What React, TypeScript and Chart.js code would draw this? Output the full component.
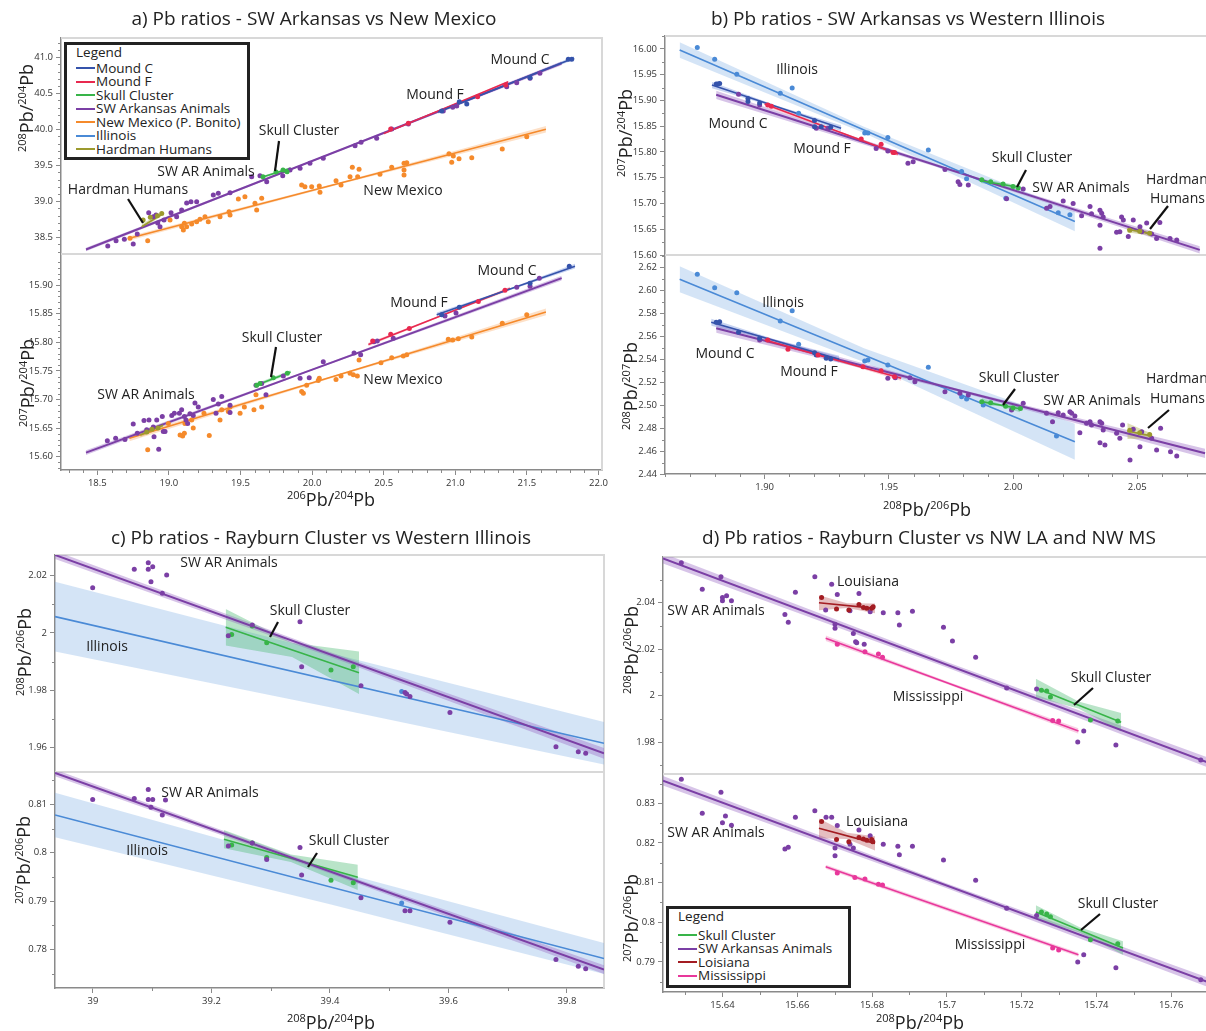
import React, { useEffect, useRef } from "react";
import { Chart, registerables } from "chart.js";

Chart.register(...registerables);
Chart.defaults.font.family = '"Open Sans", "DejaVu Sans", sans-serif';

type P = [number, number];
type B = [number, number, number];

/* ================= a) SW Arkansas vs New Mexico ================= */
const A_XTICKS = [18.5, 19.0, 19.5, 20.0, 20.5, 21.0, 21.5, 22.0];
const A_XLABELS = ["18.5", "19.0", "19.5", "20.0", "20.5", "21.0", "21.5", "22.0"];
const A1_YTICKS = [38.5, 39.0, 39.5, 40.0, 40.5, 41.0];
const A1_YLABELS = ["38.5", "39.0", "39.5", "40.0", "40.5", "41.0"];
const A2_YTICKS = [15.6, 15.65, 15.7, 15.75, 15.8, 15.85, 15.9];
const A2_YLABELS = ["15.60", "15.65", "15.70", "15.75", "15.80", "15.85", "15.90"];

const A1_SWAR: P[] = [[18.573,38.379],[18.631,38.453],[18.689,38.472],[18.751,38.407],[18.779,38.546],[18.859,38.842],[18.891,38.786],[18.910,38.810],[18.922,38.699],[18.938,38.647],[18.966,38.740],[19.015,38.842],[19.054,38.786],[19.089,38.879],[19.124,38.976],[19.154,38.994],[19.194,38.994],[19.310,39.088],[19.345,39.111],[19.427,39.119],[19.578,39.342],[19.636,39.356],[19.683,39.272],[19.795,39.356],[19.846,39.435],[19.916,39.458],[19.985,39.528],[20.078,39.597],[20.300,39.772],[20.342,39.819],[20.451,39.875],[20.556,40.004],[20.672,40.074],[20.916,40.254],[20.982,40.306],[21.010,40.324],[21.359,40.592],[21.429,40.647],[21.522,40.708],[21.591,40.778]];
const A1_MOUNDC: P[] = [[20.905,40.254],[21.028,40.383],[21.08,40.35],[21.522,40.717],[21.789,40.972],[21.813,40.972]];
const A1_MOUNDF: P[] = [[20.549,40.004],[20.672,40.083],[21.156,40.453],[21.352,40.615]];
const A1_SKULL: P[] = [[19.657,39.342],[19.748,39.407],[19.797,39.435],[19.825,39.411]];
const A1_HARD: P[] = [[18.82,38.74],[18.87,38.78],[18.92,38.80],[18.95,38.83]];
const A1_NM: P[] = [[18.728,38.486],[18.852,38.453],[19.008,38.740],[19.089,38.647],[19.101,38.601],[19.108,38.694],[19.124,38.647],[19.159,38.685],[19.194,38.717],[19.217,38.750],[19.252,38.786],[19.275,38.717],[19.357,38.786],[19.420,38.856],[19.427,38.810],[19.485,39.032],[19.531,39.064],[19.601,38.972],[19.613,38.879],[19.648,39.042],[19.927,39.226],[19.950,39.203],[19.997,39.203],[20.050,39.213],[20.055,39.125],[20.167,39.286],[20.202,39.226],[20.265,39.342],[20.281,39.472],[20.318,39.342],[20.328,39.444],[20.474,39.375],[20.556,39.472],[20.642,39.528],[20.642,39.435],[20.642,39.365],[20.661,39.536],[20.956,39.661],[20.975,39.542],[20.986,39.629],[21.026,39.592],[21.115,39.606],[21.328,39.726],[21.499,39.897]];
const A1_FIT_SWAR: P[] = [[18.421,38.331],[21.743,40.917]];
const A1_FIT_NM: P[] = [[18.724,38.486],[21.633,40.0]];
const A1_FIT_MC: P[] = [[20.88,40.24],[21.83,40.99]];
const A1_FIT_MF: P[] = [[20.50,39.94],[21.37,40.66]];
const A1_FIT_SKULL: P[] = [[19.66,39.34],[19.85,39.46]];
const A1_FIT_HARD: P[] = [[18.81,38.647],[18.943,38.810]];
const A1_BAND_SWAR: B[] = [[18.421,38.306,38.356],[20.0,39.550,39.570],[21.743,40.890,40.944]];
const A1_BAND_NM: B[] = [[18.724,38.456,38.516],[20.2,39.240,39.268],[21.633,39.955,40.045]];
const A1_BAND_MC: B[] = [[20.88,40.215,40.265],[21.35,40.601,40.621],[21.83,40.965,41.015]];
const A1_BAND_MF: B[] = [[20.50,39.925,39.955],[20.935,40.293,40.307],[21.37,40.645,40.675]];
const A1_BAND_SKULL: B[] = [[19.66,39.325,39.355],[19.85,39.445,39.475]];
const A1_BAND_HARD: B[] = [[18.81,38.62,38.68],[18.945,38.79,38.84]];

const A2_SWAR: P[] = [[18.570,15.628],[18.628,15.632],[18.693,15.630],[18.751,15.657],[18.779,15.641],[18.826,15.663],[18.845,15.647],[18.861,15.664],[18.891,15.652],[18.896,15.635],[18.915,15.664],[18.929,15.613],[18.954,15.670],[18.961,15.644],[18.973,15.644],[19.020,15.672],[19.038,15.676],[19.073,15.676],[19.089,15.682],[19.108,15.670],[19.119,15.664],[19.131,15.658],[19.147,15.675],[19.170,15.672],[19.182,15.694],[19.205,15.687],[19.310,15.700],[19.329,15.676],[19.345,15.692],[19.369,15.705],[19.427,15.690],[19.427,15.677],[19.608,15.725],[19.648,15.728],[19.678,15.708],[19.799,15.741],[19.916,15.737],[19.980,15.738],[20.078,15.766],[20.293,15.781],[20.339,15.778],[20.432,15.801],[20.455,15.802],[20.567,15.807],[20.928,15.846],[21.005,15.851],[21.429,15.896],[21.522,15.898],[21.587,15.912]];
const A2_MOUNDC: P[] = [[20.905,15.848],[21.028,15.861],[21.522,15.903],[21.796,15.933]];
const A2_MOUNDF: P[] = [[20.423,15.802],[20.549,15.814],[20.679,15.824],[21.161,15.871],[21.347,15.891]];
const A2_SKULL: P[] = [[19.613,15.725],[19.636,15.728],[19.729,15.738],[19.827,15.746]];
const A2_HARD: P[] = [[18.845,15.643],[18.882,15.648],[18.924,15.650]];
const A2_NM: P[] = [[18.852,15.612],[18.996,15.658],[19.078,15.638],[19.096,15.636],[19.108,15.641],[19.112,15.658],[19.159,15.664],[19.170,15.650],[19.245,15.676],[19.282,15.637],[19.357,15.664],[19.369,15.682],[19.415,15.679],[19.427,15.687],[19.497,15.676],[19.527,15.687],[19.594,15.682],[19.608,15.708],[19.648,15.687],[19.927,15.714],[19.939,15.711],[19.962,15.725],[20.043,15.733],[20.050,15.737],[20.167,15.735],[20.202,15.741],[20.265,15.746],[20.288,15.743],[20.316,15.741],[20.328,15.769],[20.481,15.764],[20.556,15.773],[20.637,15.776],[20.661,15.778],[20.951,15.805],[20.982,15.804],[21.021,15.806],[21.115,15.809],[21.328,15.833],[21.499,15.848]];
const A2_FIT_SWAR: P[] = [[18.421,15.607],[21.743,15.912]];
const A2_FIT_NM: P[] = [[18.724,15.632],[21.633,15.853]];
const A2_FIT_MC: P[] = [[20.87,15.848],[21.836,15.933]];
const A2_FIT_MF: P[] = [[20.393,15.796],[21.382,15.894]];
const A2_FIT_SKULL: P[] = [[19.61,15.725],[19.85,15.748]];
const A2_FIT_HARD: P[] = [[18.80,15.638],[18.96,15.655]];
const A2_BAND_SWAR: B[] = [[18.421,15.603,15.611],[20.0,15.7505,15.7535],[21.743,15.908,15.916]];
const A2_BAND_NM: B[] = [[18.724,15.627,15.637],[20.2,15.7425,15.7455],[21.633,15.847,15.859]];
const A2_BAND_MC: B[] = [[20.87,15.844,15.852],[21.35,15.8885,15.8915],[21.836,15.929,15.937]];
const A2_BAND_MF: B[] = [[20.393,15.793,15.799],[20.9,15.845,15.847],[21.382,15.891,15.897]];
const A2_BAND_SKULL: B[] = [[19.61,15.722,15.728],[19.85,15.745,15.751]];
const A2_BAND_HARD: B[] = [[18.80,15.634,15.642],[18.96,15.651,15.659]];

/* ================= b) SW Arkansas vs Western Illinois ================= */
const B_XTICKS = [1.9, 1.95, 2.0, 2.05];
const B_XLABELS = ["1.90", "1.95", "2.00", "2.05"];
const B1_YTICKS = [15.6, 15.65, 15.7, 15.75, 15.8, 15.85, 15.9, 15.95, 16.0];
const B1_YLABELS = ["15.60", "15.65", "15.70", "15.75", "15.80", "15.85", "15.90", "15.95", "16.00"];
const B2_YTICKS = [2.44, 2.46, 2.48, 2.5, 2.52, 2.54, 2.56, 2.58, 2.6, 2.62];
const B2_YLABELS = ["2.44", "2.46", "2.48", "2.50", "2.52", "2.54", "2.56", "2.58", "2.60", "2.62"];

const B1_ILL: P[] = [[1.8729,16.003],[1.8799,15.980],[1.8888,15.951],[1.9063,15.914],[1.9111,15.924],[1.9137,15.875],[1.9403,15.837],[1.9416,15.837],[1.9496,15.828],[1.9659,15.804],[1.9793,15.762],[1.9813,15.748],[1.9971,15.710],[2.0182,15.682],[2.0229,15.678]];
const B1_MOUNDC: P[] = [[1.8805,15.932],[1.8812,15.932],[1.8819,15.933],[1.8933,15.904],[1.8933,15.898],[1.8980,15.895],[1.9201,15.861],[1.9201,15.849],[1.9228,15.849],[1.9266,15.848]];
const B1_MOUNDF: P[] = [[1.9013,15.891],[1.9027,15.889],[1.9389,15.825],[1.9469,15.815],[1.9517,15.799],[1.9523,15.799]];
const B1_SWAR: P[] = [[1.8895,15.912],[1.8980,15.891],[1.9208,15.846],[1.9255,15.846],[1.9449,15.807],[1.9496,15.802],[1.9577,15.778],[1.9598,15.781],[1.9726,15.766],[1.9779,15.742],[1.9786,15.737],[1.9820,15.736],[1.9974,15.709],[2.0041,15.728],[2.0135,15.691],[2.0149,15.694],[2.0202,15.705],[2.0242,15.700],[2.0276,15.676],[2.0310,15.694],[2.0316,15.680],[2.0350,15.687],[2.0357,15.681],[2.0363,15.674],[2.0350,15.658],[2.0350,15.613],[2.0417,15.644],[2.0430,15.645],[2.0437,15.674],[2.0444,15.668],[2.0464,15.636],[2.0484,15.668],[2.0511,15.655],[2.0518,15.645],[2.0538,15.662],[2.0558,15.641],[2.0578,15.632],[2.0591,15.663],[2.0632,15.632],[2.0659,15.629]];
const B1_SKULL: P[] = [[1.9874,15.746],[1.991,15.742],[1.996,15.738],[2.000,15.733],[2.0021,15.730]];
const B1_HARD: P[] = [[2.047,15.648],[2.051,15.646],[2.055,15.642]];
const B1_FIT_ILL: P[] = [[1.8658,15.998],[2.0249,15.665]];
const B1_FIT_MC: P[] = [[1.8788,15.930],[1.9308,15.846]];
const B1_FIT_MF: P[] = [[1.900,15.893],[1.9537,15.796]];
const B1_FIT_SWAR: P[] = [[1.8805,15.911],[2.0752,15.610]];
const B1_FIT_SKULL: P[] = [[1.987,15.744],[2.003,15.731]];
const B1_FIT_HARD: P[] = [[2.046,15.650],[2.056,15.641]];
const B1_BAND_ILL: B[] = [[1.8658,15.983,16.013],[1.94,15.837,15.849],[2.0249,15.646,15.684]];
const B1_BAND_MC: B[] = [[1.8788,15.924,15.936],[1.905,15.8857,15.8897],[1.9308,15.840,15.852]];
const B1_BAND_MF: B[] = [[1.900,15.889,15.897],[1.927,15.8425,15.8455],[1.9537,15.792,15.800]];
const B1_BAND_SWAR: B[] = [[1.8805,15.903,15.919],[1.98,15.755,15.759],[2.0752,15.603,15.617]];
const B1_BAND_SKULL: B[] = [[1.987,15.740,15.748],[2.003,15.727,15.735]];
const B1_BAND_HARD: B[] = [[2.046,15.644,15.656],[2.056,15.637,15.645]];

const B2_ILL: P[] = [[1.8729,2.6139],[1.8799,2.6022],[1.8888,2.5979],[1.9063,2.5732],[1.9111,2.5822],[1.9137,2.5529],[1.9403,2.5384],[1.9416,2.5393],[1.9496,2.5349],[1.9659,2.5329],[1.9793,2.5073],[1.9813,2.5053],[1.9880,2.5001],[2.0175,2.4731]];
const B2_MOUNDC: P[] = [[1.8805,2.5721],[1.8819,2.5726],[1.8895,2.5634],[1.8980,2.5582],[1.9201,2.5456],[1.9208,2.5436],[1.9248,2.5407],[1.9266,2.5401]];
const B2_MOUNDF: P[] = [[1.9013,2.5567],[1.9094,2.5486],[1.9215,2.5436],[1.9396,2.5334],[1.9469,2.5299],[1.9523,2.5247]];
const B2_SWAR: P[] = [[1.8980,2.5567],[1.9496,2.5233],[1.9526,2.5238],[1.9585,2.5238],[1.9605,2.5204],[1.9726,2.5116],[1.9786,2.5103],[1.9820,2.5088],[1.9994,2.4957],[2.0041,2.5015],[2.0135,2.4928],[2.0159,2.4855],[2.0182,2.4934],[2.0202,2.4914],[2.0229,2.4942],[2.0236,2.4928],[2.0249,2.4905],[2.0269,2.4759],[2.0296,2.4841],[2.0310,2.4855],[2.0316,2.4826],[2.0350,2.4855],[2.0357,2.4841],[2.0350,2.4672],[2.0363,2.4783],[2.0370,2.4653],[2.0417,2.4754],[2.0430,2.4711],[2.0441,2.4826],[2.0471,2.4521],[2.0484,2.4789],[2.0511,2.4637],[2.0518,2.4768],[2.0558,2.4711],[2.0578,2.4609],[2.0594,2.4798],[2.0634,2.4594],[2.0659,2.4556]];
const B2_SKULL: P[] = [[1.9874,2.5030],[1.991,2.5020],[1.997,2.4990],[2.000,2.4975],[2.003,2.4970]];
const B2_HARD: P[] = [[2.047,2.4780],[2.051,2.4760],[2.055,2.4745]];
const B2_FIT_ILL: P[] = [[1.8658,2.6095],[2.0249,2.4681]];
const B2_FIT_MC: P[] = [[1.8785,2.5721],[1.9300,2.5400]];
const B2_FIT_MF: P[] = [[1.900,2.5567],[1.955,2.5233]];
const B2_FIT_SWAR: P[] = [[1.8805,2.5669],[2.0773,2.4580]];
const B2_FIT_SKULL: P[] = [[1.9874,2.5030],[2.0028,2.4968]];
const B2_FIT_HARD: P[] = [[2.046,2.4775],[2.056,2.4730]];
const B2_BAND_ILL: B[] = [[1.8658,2.5982,2.6208],[1.94,2.5376,2.5496],[2.0249,2.4524,2.4838]];
const B2_BAND_MC: B[] = [[1.8785,2.5691,2.5751],[1.904,2.5553,2.5573],[1.93,2.5370,2.5430]];
const B2_BAND_MF: B[] = [[1.900,2.5547,2.5587],[1.9275,2.5392,2.5408],[1.955,2.5213,2.5253]];
const B2_BAND_SWAR: B[] = [[1.8805,2.5629,2.5709],[1.98,2.5106,2.5130],[2.0773,2.4540,2.4620]];
const B2_BAND_SKULL: B[] = [[1.9874,2.5000,2.5060],[1.995,2.4989,2.5009],[2.0028,2.4938,2.4998]];
const B2_BAND_HARD: B[] = [[2.046,2.4705,2.4845],[2.056,2.4710,2.4750]];

/* ================= c) Rayburn Cluster vs Western Illinois ================= */
const C_XTICKS = [39, 39.2, 39.4, 39.6, 39.8];
const C_XLABELS = ["39", "39.2", "39.4", "39.6", "39.8"];
const C1_YTICKS = [1.96, 1.98, 2.0, 2.02];
const C1_YLABELS = ["1.96", "1.98", "2", "2.02"];
const C2_YTICKS = [0.78, 0.79, 0.8, 0.81];
const C2_YLABELS = ["0.78", "0.79", "0.8", "0.81"];

const C1_SWAR: P[] = [[38.9995,2.0158],[39.0697,2.0222],[39.0933,2.0245],[39.0933,2.0222],[39.1008,2.0231],[39.0979,2.0179],[39.1170,2.0139],[39.1244,2.0202],[39.2284,1.9990],[39.2689,2.0028],[39.3494,2.0039],[39.3522,1.9882],[39.4523,1.9816],[39.5266,1.9792],[39.5294,1.9787],[39.5350,1.9778],[39.6025,1.9723],[39.7814,1.9603],[39.8191,1.9586],[39.8316,1.9580]];
const C1_SKULL: P[] = [[39.2341,1.9995],[39.2689,2.0024],[39.2932,1.9966],[39.4017,1.9871],[39.4393,1.9882]];
const C1_ILL: P[] = [[39.521,1.9796]];
const C1_FIT_SWAR: P[] = [[38.936,2.0272],[39.8625,1.9580]];
const C1_FIT_ILL: P[] = [[38.936,2.0057],[39.8625,1.9615]];
const C1_FIT_SKULL: P[] = [[39.224,2.0020],[39.449,1.9861]];
const C1_BAND_SWAR: B[] = [[38.936,2.0258,2.0286],[39.4,1.99173,1.99333],[39.8625,1.9561,1.9599]];
const C1_BAND_ILL: B[] = [[38.936,1.9935,2.0179],[39.4,1.97405,1.99305],[39.8625,1.9541,1.9689]];
const C1_BAND_SKULL: B[] = [[39.224,1.9956,2.0084],[39.336,1.99158,1.99658],[39.449,1.9787,1.9935]];

const C2_SWAR: P[] = [[38.9995,0.8110],[39.0697,0.8112],[39.0933,0.8131],[39.0933,0.8110],[39.1008,0.8110],[39.0979,0.8094],[39.1224,0.8109],[39.1170,0.8078],[39.2284,0.8014],[39.2689,0.8020],[39.2932,0.7986],[39.3494,0.8011],[39.3522,0.7954],[39.4523,0.7907],[39.5266,0.7880],[39.5350,0.7880],[39.6025,0.7856],[39.7814,0.7779],[39.8191,0.7765],[39.8316,0.7760]];
const C2_SKULL: P[] = [[39.2341,0.8016],[39.2689,0.8020],[39.2932,0.7990],[39.4017,0.7943],[39.4393,0.7938]];
const C2_ILL: P[] = [[39.521,0.7896]];
const C2_FIT_SWAR: P[] = [[38.936,0.8165],[39.8625,0.7758]];
const C2_FIT_ILL: P[] = [[38.936,0.8078],[39.8625,0.7781]];
const C2_FIT_SKULL: P[] = [[39.221,0.8028],[39.447,0.7949]];
const C2_BAND_SWAR: B[] = [[38.936,0.8158,0.8172],[39.4,0.79571,0.79651],[39.8625,0.7749,0.7767]];
const C2_BAND_ILL: B[] = [[38.936,0.8032,0.8124],[39.4,0.78932,0.79652],[39.8625,0.7749,0.7813]];
const C2_BAND_SKULL: B[] = [[39.221,0.8009,0.8047],[39.334,0.79805,0.79965],[39.447,0.7923,0.7975]];

/* ================= d) Rayburn Cluster vs NW LA and NW MS ================= */
const D_XTICKS = [15.64, 15.66, 15.68, 15.7, 15.72, 15.74, 15.76];
const D_XLABELS = ["15.64", "15.66", "15.68", "15.7", "15.72", "15.74", "15.76"];
const D1_YTICKS = [1.98, 2.0, 2.02, 2.04];
const D1_YLABELS = ["1.98", "2", "2.02", "2.04"];
const D2_YTICKS = [0.79, 0.8, 0.81, 0.82, 0.83];
const D2_YLABELS = ["0.79", "0.8", "0.81", "0.82", "0.83"];

const D1_SWAR: P[] = [[15.6290,2.0572],[15.6396,2.0512],[15.6346,2.0458],[15.6400,2.0423],[15.6400,2.0409],[15.6411,2.0430],[15.6424,2.0409],[15.6567,2.0350],[15.6576,2.0316],[15.6595,2.0445],[15.6647,2.0512],[15.6692,2.0480],[15.6707,2.0436],[15.6676,2.0369],[15.6701,2.0308],[15.6701,2.0290],[15.6741,2.0366],[15.6765,2.0440],[15.6750,2.0268],[15.6756,2.0232],[15.6759,2.0228],[15.6779,2.0222],[15.6795,2.0361],[15.6830,2.0357],[15.6869,2.0357],[15.6873,2.0304],[15.6908,2.0364],[15.6991,2.0295],[15.7015,2.0235],[15.7077,2.0166],[15.7160,2.0033],[15.7240,2.0029],[15.7350,1.9801],[15.7366,1.9848],[15.7452,1.9788],[15.7679,1.9723]];
const D1_LA: P[] = [[15.6665,2.0423],[15.6705,2.0373],[15.6738,2.0369],[15.6765,2.0393],[15.6777,2.0380],[15.6786,2.0376],[15.6799,2.0376],[15.6803,2.0383]];
const D1_MS: P[] = [[15.6707,2.0221],[15.6781,2.0189],[15.6817,2.0179],[15.6828,2.0165],[15.7283,1.9893],[15.7299,1.9891]];
const D1_SKULL: P[] = [[15.7253,2.0024],[15.7267,2.0020],[15.7277,1.9994],[15.7384,1.9895],[15.7457,1.9891]];
const D1_FIT_SWAR: P[] = [[15.6241,2.0591],[15.7709,1.9706]];
const D1_FIT_LA: P[] = [[15.6658,2.0400],[15.6808,2.0376]];
const D1_FIT_MS: P[] = [[15.6676,2.0247],[15.7352,1.9848]];
const D1_FIT_SKULL: P[] = [[15.7238,2.0033],[15.7466,1.9886]];
const D1_BAND_SWAR: B[] = [[15.6241,2.0569,2.0613],[15.70,2.0121,2.0145],[15.7709,1.9684,1.9728]];
const D1_BAND_LA: B[] = [[15.6658,2.0368,2.0432],[15.6733,2.0378,2.0398],[15.6808,2.0355,2.0397]];
const D1_BAND_MS: B[] = [[15.6676,2.0235,2.0259],[15.70,2.0050,2.0062],[15.7352,1.9836,1.9860]];
const D1_BAND_SKULL: B[] = [[15.7238,1.9993,2.0073],[15.7352,1.9945,1.9975],[15.7466,1.9846,1.9926]];

const D2_SWAR: P[] = [[15.6290,0.8361],[15.6396,0.8328],[15.6346,0.8275],[15.6400,0.8251],[15.6408,0.8268],[15.6424,0.8245],[15.6567,0.8185],[15.6576,0.8189],[15.6595,0.8265],[15.6647,0.8281],[15.6677,0.8265],[15.6692,0.8265],[15.6707,0.8244],[15.6701,0.8187],[15.6701,0.8168],[15.6741,0.8197],[15.6765,0.8233],[15.6750,0.8187],[15.6795,0.8218],[15.6830,0.8197],[15.6869,0.8192],[15.6873,0.8170],[15.6908,0.8192],[15.6991,0.8157],[15.7077,0.8106],[15.7160,0.8035],[15.7240,0.8017],[15.7350,0.7900],[15.7366,0.7918],[15.7452,0.7885],[15.7679,0.7855]];
const D2_LA: P[] = [[15.6665,0.8254],[15.6705,0.8209],[15.6738,0.8203],[15.6765,0.8214],[15.6777,0.8210],[15.6786,0.8207],[15.6799,0.8209],[15.6802,0.8203]];
const D2_MS: P[] = [[15.6707,0.8124],[15.6754,0.8113],[15.6781,0.8109],[15.6817,0.8096],[15.6828,0.8094],[15.7283,0.7935],[15.7299,0.7930]];
const D2_SKULL: P[] = [[15.7253,0.8026],[15.7267,0.8021],[15.7277,0.8014],[15.7384,0.7956],[15.7457,0.7946]];
const D2_FIT_SWAR: P[] = [[15.6241,0.8357],[15.7709,0.7845]];
const D2_FIT_LA: P[] = [[15.6658,0.8237],[15.6808,0.8199]];
const D2_FIT_MS: P[] = [[15.6676,0.8140],[15.7352,0.7918]];
const D2_FIT_SKULL: P[] = [[15.7238,0.8026],[15.7471,0.7935]];
const D2_BAND_SWAR: B[] = [[15.6241,0.8345,0.8369],[15.70,0.8086,0.8098],[15.7709,0.7833,0.7857]];
const D2_BAND_LA: B[] = [[15.6658,0.8212,0.8262],[15.6733,0.8210,0.8226],[15.6808,0.8181,0.8217]];
const D2_BAND_MS: B[] = [[15.6676,0.8135,0.8145],[15.7352,0.7913,0.7923]];
const D2_BAND_SKULL: B[] = [[15.7238,0.8009,0.8043],[15.7355,0.79735,0.79875],[15.7471,0.7918,0.7952]];

/* legends */
const LEGEND_A_NAMES = ["Mound C", "Mound F", "Skull Cluster", "SW Arkansas Animals", "New Mexico (P. Bonito)", "Illinois", "Hardman Humans"];
const LEGEND_D_NAMES = ["Skull Cluster", "SW Arkansas Animals", "Loisiana", "Mississippi"];

/* ================= styles ================= */
const COL = {
  mc: "#3553ab", mf: "#e8294f", skull: "#38b449", swar: "#7b3fa5", nm: "#f58a2b",
  ill: "#4a8ad6", hard: "#9c9a2e", la: "#a31c22", ms: "#e8389b",
};
const BANDCOL = {
  mc: "rgba(70,110,210,0.30)", mf: "rgba(240,80,110,0.30)", skull: "rgba(70,185,110,0.38)",
  swar: "rgba(150,100,195,0.38)", nm: "rgba(248,165,95,0.35)", ill: "rgba(120,170,228,0.32)",
  hard: "rgba(175,175,70,0.40)", la: "rgba(170,40,45,0.30)", ms: "rgba(235,90,165,0.30)",
};
const LEGEND_A_COLS = [COL.mc, COL.mf, COL.skull, COL.swar, COL.nm, COL.ill, COL.hard];
const LEGEND_D_COLS = [COL.skull, COL.swar, COL.la, COL.ms];

interface Ser { c: keyof typeof COL; pts?: P[]; fit?: P[]; band?: B[]; lw?: number }
interface Note { t: string; x: number; y: number; line?: [number, number, number, number]; align?: CanvasTextAlign }
interface Axis { min: number; max: number; ticks: number[]; labels: string[]; minor: number }
interface SubCfg { rect: [number, number, number, number]; x: Axis; y: Axis; showX: boolean; series: Ser[]; notes: Note[] }

const AX_A: Axis = { min: 18.2465, max: 22.0245, ticks: A_XTICKS, labels: A_XLABELS, minor: 4 };
const AX_B: Axis = { min: 1.8599, max: 2.0801, ticks: B_XTICKS, labels: B_XLABELS, minor: 4 };
const AX_C: Axis = { min: 38.9359, max: 39.8625, ticks: C_XTICKS, labels: C_XLABELS, minor: 1 };
const AX_D: Axis = { min: 15.6241, max: 15.7709, ticks: D_XTICKS, labels: D_XLABELS, minor: 1 };

const SUBS: SubCfg[] = [
  {
    rect: [61, 38, 602, 254], x: AX_A, showX: false,
    y: { min: 38.268, max: 41.268, ticks: A1_YTICKS, labels: A1_YLABELS, minor: 4 },
    series: [
      { c: "nm", pts: A1_NM, fit: A1_FIT_NM, band: A1_BAND_NM },
      { c: "swar", pts: A1_SWAR, fit: A1_FIT_SWAR, band: A1_BAND_SWAR, lw: 2 },
      { c: "hard", pts: A1_HARD, fit: A1_FIT_HARD, band: A1_BAND_HARD },
      { c: "skull", pts: A1_SKULL, fit: A1_FIT_SKULL, band: A1_BAND_SKULL },
      { c: "mf", pts: A1_MOUNDF, fit: A1_FIT_MF, band: A1_BAND_MF },
      { c: "mc", pts: A1_MOUNDC, fit: A1_FIT_MC, band: A1_BAND_MC },
    ],
    notes: [
      { t: "Mound C", x: 520, y: 60 },
      { t: "Mound F", x: 435, y: 95 },
      { t: "Skull Cluster", x: 299, y: 131, line: [279, 141, 275, 171] },
      { t: "SW AR Animals", x: 206, y: 172 },
      { t: "Hardman Humans", x: 128, y: 190, line: [128, 199, 143, 223] },
      { t: "New Mexico", x: 403, y: 191 },
    ],
  },
  {
    rect: [61, 254, 602, 470], x: AX_A, showX: true,
    y: { min: 15.5767, max: 15.9542, ticks: A2_YTICKS, labels: A2_YLABELS, minor: 4 },
    series: [
      { c: "nm", pts: A2_NM, fit: A2_FIT_NM, band: A2_BAND_NM },
      { c: "swar", pts: A2_SWAR, fit: A2_FIT_SWAR, band: A2_BAND_SWAR, lw: 2 },
      { c: "hard", pts: A2_HARD, fit: A2_FIT_HARD, band: A2_BAND_HARD },
      { c: "skull", pts: A2_SKULL, fit: A2_FIT_SKULL, band: A2_BAND_SKULL },
      { c: "mf", pts: A2_MOUNDF, fit: A2_FIT_MF, band: A2_BAND_MF },
      { c: "mc", pts: A2_MOUNDC, fit: A2_FIT_MC, band: A2_BAND_MC },
    ],
    notes: [
      { t: "Mound C", x: 507, y: 271 },
      { t: "Mound F", x: 419, y: 303 },
      { t: "Skull Cluster", x: 282, y: 338, line: [276, 347, 271, 377] },
      { t: "SW AR Animals", x: 146, y: 395 },
      { t: "New Mexico", x: 403, y: 380 },
    ],
  },
  {
    rect: [665, 36, 1212, 255], x: AX_B, showX: false,
    y: { min: 15.6, max: 16.0252, ticks: B1_YTICKS, labels: B1_YLABELS, minor: 1 },
    series: [
      { c: "ill", pts: B1_ILL, fit: B1_FIT_ILL, band: B1_BAND_ILL },
      { c: "swar", pts: B1_SWAR, fit: B1_FIT_SWAR, band: B1_BAND_SWAR, lw: 2 },
      { c: "mc", pts: B1_MOUNDC, fit: B1_FIT_MC, band: B1_BAND_MC },
      { c: "mf", pts: B1_MOUNDF, fit: B1_FIT_MF, band: B1_BAND_MF },
      { c: "skull", pts: B1_SKULL, fit: B1_FIT_SKULL, band: B1_BAND_SKULL },
      { c: "hard", pts: B1_HARD, fit: B1_FIT_HARD, band: B1_BAND_HARD },
    ],
    notes: [
      { t: "Illinois", x: 797, y: 70 },
      { t: "Mound C", x: 738, y: 124 },
      { t: "Mound F", x: 822, y: 149 },
      { t: "Skull Cluster", x: 1032, y: 158, line: [1026, 170, 1017, 187] },
      { t: "SW AR Animals", x: 1081, y: 188 },
      { t: "Hardman", x: 1146, y: 180, align: "left" },
      { t: "Humans", x: 1150, y: 199, align: "left", line: [1168, 206, 1150, 229] },
    ],
  },
  {
    rect: [665, 255, 1212, 474], x: AX_B, showX: true,
    y: { min: 2.44, max: 2.6307, ticks: B2_YTICKS, labels: B2_YLABELS, minor: 1 },
    series: [
      { c: "ill", pts: B2_ILL, fit: B2_FIT_ILL, band: B2_BAND_ILL },
      { c: "swar", pts: B2_SWAR, fit: B2_FIT_SWAR, band: B2_BAND_SWAR, lw: 2 },
      { c: "mc", pts: B2_MOUNDC, fit: B2_FIT_MC, band: B2_BAND_MC },
      { c: "mf", pts: B2_MOUNDF, fit: B2_FIT_MF, band: B2_BAND_MF },
      { c: "skull", pts: B2_SKULL, fit: B2_FIT_SKULL, band: B2_BAND_SKULL },
      { c: "hard", pts: B2_HARD, fit: B2_FIT_HARD, band: B2_BAND_HARD },
    ],
    notes: [
      { t: "Illinois", x: 783, y: 303 },
      { t: "Mound C", x: 725, y: 354 },
      { t: "Mound F", x: 809, y: 372 },
      { t: "Skull Cluster", x: 1019, y: 378, line: [1015, 389, 1003, 405] },
      { t: "SW AR Animals", x: 1092, y: 401 },
      { t: "Hardman", x: 1146, y: 379, align: "left" },
      { t: "Humans", x: 1150, y: 399, align: "left", line: [1169, 410, 1148, 428] },
    ],
  },
  {
    rect: [55, 555, 604, 772], x: AX_C, showX: false,
    y: { min: 1.9515, max: 2.0272, ticks: C1_YTICKS, labels: C1_YLABELS, minor: 1 },
    series: [
      { c: "ill", pts: C1_ILL, fit: C1_FIT_ILL, band: C1_BAND_ILL },
      { c: "skull", pts: C1_SKULL, fit: C1_FIT_SKULL, band: C1_BAND_SKULL },
      { c: "swar", pts: C1_SWAR, fit: C1_FIT_SWAR, band: C1_BAND_SWAR, lw: 2 },
    ],
    notes: [
      { t: "SW AR Animals", x: 229, y: 563 },
      { t: "Skull Cluster", x: 310, y: 611, line: [278, 622, 270, 637] },
      { t: "Illinois", x: 107, y: 647 },
    ],
  },
  {
    rect: [55, 772, 604, 988], x: AX_C, showX: true,
    y: { min: 0.772, max: 0.8167, ticks: C2_YTICKS, labels: C2_YLABELS, minor: 1 },
    series: [
      { c: "ill", pts: C2_ILL, fit: C2_FIT_ILL, band: C2_BAND_ILL },
      { c: "skull", pts: C2_SKULL, fit: C2_FIT_SKULL, band: C2_BAND_SKULL },
      { c: "swar", pts: C2_SWAR, fit: C2_FIT_SWAR, band: C2_BAND_SWAR, lw: 2 },
    ],
    notes: [
      { t: "SW AR Animals", x: 210, y: 793 },
      { t: "Skull Cluster", x: 349, y: 841, line: [317, 853, 308, 867] },
      { t: "Illinois", x: 147, y: 851 },
    ],
  },
  {
    rect: [663, 557, 1212, 774], x: AX_D, showX: false,
    y: { min: 1.9663, max: 2.0597, ticks: D1_YTICKS, labels: D1_YLABELS, minor: 1 },
    series: [
      { c: "swar", pts: D1_SWAR, fit: D1_FIT_SWAR, band: D1_BAND_SWAR, lw: 2 },
      { c: "la", pts: D1_LA, fit: D1_FIT_LA, band: D1_BAND_LA },
      { c: "ms", pts: D1_MS, fit: D1_FIT_MS, band: D1_BAND_MS },
      { c: "skull", pts: D1_SKULL, fit: D1_FIT_SKULL, band: D1_BAND_SKULL },
    ],
    notes: [
      { t: "Louisiana", x: 868, y: 582 },
      { t: "SW AR Animals", x: 716, y: 611 },
      { t: "Skull Cluster", x: 1111, y: 678, line: [1093, 688, 1074, 705] },
      { t: "Mississippi", x: 928, y: 697 },
    ],
  },
  {
    rect: [663, 774, 1212, 992], x: AX_D, showX: true,
    y: { min: 0.7824, max: 0.8374, ticks: D2_YTICKS, labels: D2_YLABELS, minor: 1 },
    series: [
      { c: "swar", pts: D2_SWAR, fit: D2_FIT_SWAR, band: D2_BAND_SWAR, lw: 2 },
      { c: "la", pts: D2_LA, fit: D2_FIT_LA, band: D2_BAND_LA },
      { c: "ms", pts: D2_MS, fit: D2_FIT_MS, band: D2_BAND_MS },
      { c: "skull", pts: D2_SKULL, fit: D2_FIT_SKULL, band: D2_BAND_SKULL },
    ],
    notes: [
      { t: "Louisiana", x: 877, y: 822 },
      { t: "SW AR Animals", x: 716, y: 833 },
      { t: "Skull Cluster", x: 1118, y: 904, line: [1100, 914, 1081, 930] },
      { t: "Mississippi", x: 990, y: 945 },
    ],
  },
];

const PADL = 62, PADT = 10, PADR = 28, PADB_X = 44, PADB = 10;

function buildDatasets(series: Ser[]) {
  const ds: any[] = [];
  const toXY = (a: number[][], yi: number) => a.map((p) => ({ x: p[0], y: p[yi] }));
  series.forEach((s, i) => {
    if (s.band) {
      ds.push({ data: toXY(s.band, 2), borderColor: "rgba(0,0,0,0)", borderWidth: 0, pointRadius: 0, fill: false, order: 300 - i, tension: 0 });
      ds.push({ data: toXY(s.band, 1), borderColor: "rgba(0,0,0,0)", borderWidth: 0, pointRadius: 0, fill: "-1", backgroundColor: BANDCOL[s.c], order: 300 - i, tension: 0 });
    }
    if (s.fit) {
      ds.push({ data: toXY(s.fit, 1), borderColor: COL[s.c], borderWidth: s.lw ?? 1.6, pointRadius: 0, fill: false, order: 200 - i, tension: 0 });
    }
    if (s.pts) {
      ds.push({ data: toXY(s.pts, 1), showLine: false, pointRadius: 2.5, pointBackgroundColor: COL[s.c], pointBorderWidth: 0, borderColor: COL[s.c], order: 100 - i });
    }
  });
  return ds;
}

function drawMinor(ctx: CanvasRenderingContext2D, scale: any, n: number, horiz: boolean, area: any) {
  const vals = scale.ticks.map((t: any) => t.value);
  if (vals.length < 2 || n < 1) return;
  const step = vals[1] - vals[0];
  const sub = step / (n + 1);
  ctx.save();
  ctx.strokeStyle = "#8a8a8a";
  ctx.lineWidth = 1;
  for (let k = -(n + 1); k <= (vals.length - 1) * (n + 1) + n + 1; k++) {
    if (k % (n + 1) === 0) continue;
    const v = vals[0] + k * sub;
    if (v < scale.min || v > scale.max) continue;
    const p = Math.round(scale.getPixelForValue(v)) + 0.5;
    ctx.beginPath();
    if (horiz) { ctx.moveTo(p, area.bottom); ctx.lineTo(p, area.bottom + 3); }
    else { ctx.moveTo(area.left - 3, p); ctx.lineTo(area.left, p); }
    ctx.stroke();
  }
  ctx.restore();
}

function decoPlugin(cfg: SubCfg, cl: number, ct: number) {
  return {
    id: "deco",
    beforeDatasetsDraw(chart: any) {
      const { ctx, chartArea: a } = chart;
      ctx.save();
      ctx.strokeStyle = "#d8d8d8";
      ctx.lineWidth = 2;
      ctx.beginPath();
      ctx.moveTo(a.left, a.top);
      ctx.lineTo(a.right, a.top);
      ctx.lineTo(a.right, a.bottom);
      if (!cfg.showX) ctx.lineTo(a.left, a.bottom);
      ctx.stroke();
      ctx.restore();
    },
    afterDraw(chart: any) {
      const { ctx, chartArea: a } = chart;
      if (cfg.showX) drawMinor(ctx, chart.scales.x, cfg.x.minor, true, a);
      drawMinor(ctx, chart.scales.y, cfg.y.minor, false, a);
      ctx.save();
      ctx.font = '14px "Open Sans", sans-serif';
      ctx.fillStyle = "#222";
      ctx.textBaseline = "middle";
      for (const n of cfg.notes) {
        ctx.textAlign = n.align ?? "center";
        ctx.fillText(n.t, n.x - cl, n.y - ct);
        if (n.line) {
          ctx.strokeStyle = "#111";
          ctx.lineWidth = 2.2;
          ctx.beginPath();
          ctx.moveTo(n.line[0] - cl, n.line[1] - ct);
          ctx.lineTo(n.line[2] - cl, n.line[3] - ct);
          ctx.stroke();
        }
      }
      ctx.restore();
    },
  };
}

function axisOpts(ax: Axis) {
  return {
    type: "linear",
    min: ax.min,
    max: ax.max,
    afterBuildTicks: (s: any) => { s.ticks = ax.ticks.map((v) => ({ value: v })); },
    ticks: {
      callback: (_v: any, i: number) => ax.labels[i],
      font: { size: 9.5 },
      color: "#333",
      padding: 3,
      autoSkip: false,
      maxRotation: 0,
      includeBounds: false,
    },
    grid: { display: true, drawOnChartArea: false, drawTicks: true, tickLength: 5, color: "#8a8a8a", lineWidth: 1 },
    border: { display: true, color: "#8a8a8a", width: 1.5 },
  };
}

function Sub({ cfg }: { cfg: SubCfg }) {
  const ref = useRef<HTMLCanvasElement>(null);
  const [l, t, r, b] = cfg.rect;
  const cl = l - PADL, ct = t - PADT;
  const w = r - l + PADL + PADR;
  const h = b - t + PADT + (cfg.showX ? PADB_X : PADB);
  useEffect(() => {
    const xOpts: any = { ...axisOpts(cfg.x), display: cfg.showX };
    if (cfg.showX) xOpts.afterFit = (s: any) => { s.height = PADB_X; };
    const chart = new Chart(ref.current as HTMLCanvasElement, {
      type: "line",
      data: { datasets: buildDatasets(cfg.series) },
      options: {
        animation: false,
        responsive: false,
        events: [],
        layout: { padding: { left: 0, top: PADT, right: PADR, bottom: cfg.showX ? 0 : PADB } },
        plugins: { legend: { display: false }, tooltip: { enabled: false }, title: { display: false } },
        scales: {
          x: xOpts,
          y: { ...axisOpts(cfg.y), afterFit: (s: any) => { s.width = PADL; } },
        },
      } as any,
      plugins: [decoPlugin(cfg, cl, ct)],
    });
    return () => chart.destroy();
  }, []);
  return <canvas ref={ref} width={w} height={h} style={{ position: "absolute", left: cl, top: ct, width: w, height: h }} />;
}

function AxTitle({ a, b, x, y, rot }: { a: string; b: string; x: number; y: number; rot?: boolean }) {
  return (
    <div style={{ position: "absolute", left: x, top: y, transform: "translate(-50%,-50%)" + (rot ? " rotate(-90deg)" : ""), whiteSpace: "nowrap", fontSize: 18, lineHeight: "20px", color: "#222" }}>
      <sup style={{ fontSize: 11, verticalAlign: 7 }}>{a}</sup>Pb/<sup style={{ fontSize: 11, verticalAlign: 7 }}>{b}</sup>Pb
    </div>
  );
}

function Title({ text, x, y }: { text: string; x: number; y: number }) {
  return <div style={{ position: "absolute", left: x, top: y, transform: "translate(-50%,-50%)", whiteSpace: "nowrap", fontSize: 19, color: "#222" }}>{text}</div>;
}

function Legend({ left, top, width, height, gap, names, cols }: { left: number; top: number; width: number; height: number; gap: number; names: string[]; cols: string[] }) {
  return (
    <div style={{ position: "absolute", left, top, width, height, boxSizing: "border-box", border: "3px solid #222", background: "#fff", padding: "1px 0 0 9px", fontSize: 13.5, lineHeight: "13.5px", color: "#222" }}>
      <div style={{ marginBottom: gap }}>Legend</div>
      {names.map((n, i) => (
        <div key={n} style={{ display: "flex", alignItems: "center", whiteSpace: "nowrap" }}>
          <span style={{ display: "inline-block", width: 19, height: 2, background: cols[i], marginRight: 1 }} />
          {n}
        </div>
      ))}
    </div>
  );
}

export default function App() {
  return (
    <div style={{ position: "absolute", left: 0, top: 0, width: 1206, height: 1031, overflow: "hidden", background: "#fff", fontFamily: '"Open Sans", sans-serif' }}>
      {SUBS.map((c, i) => <Sub key={i} cfg={c} />)}
      <Title text="a) Pb ratios - SW Arkansas vs New Mexico" x={314} y={18} />
      <Title text="b) Pb ratios - SW Arkansas vs Western Illinois" x={908} y={18} />
      <Title text="c) Pb ratios - Rayburn Cluster vs Western Illinois" x={321} y={537} />
      <Title text="d) Pb ratios - Rayburn Cluster vs NW LA and NW MS" x={929} y={537} />
      <AxTitle a="208" b="204" x={24} y={108} rot />
      <AxTitle a="207" b="204" x={25} y={383} rot />
      <AxTitle a="206" b="204" x={331} y={497} />
      <AxTitle a="207" b="204" x={623} y={133} rot />
      <AxTitle a="208" b="207" x={628} y={386} rot />
      <AxTitle a="208" b="206" x={927} y={507} />
      <AxTitle a="208" b="206" x={22} y={652} rot />
      <AxTitle a="207" b="206" x={21} y={860} rot />
      <AxTitle a="208" b="204" x={331} y={1020} />
      <AxTitle a="208" b="206" x={629} y={650} rot />
      <AxTitle a="207" b="206" x={629} y={918} rot />
      <AxTitle a="208" b="204" x={920} y={1020} />
      <Legend left={64} top={42} width={186} height={118} gap={2} names={LEGEND_A_NAMES} cols={LEGEND_A_COLS} />
      <Legend left={666} top={906} width={185} height={82} gap={5} names={LEGEND_D_NAMES} cols={LEGEND_D_COLS} />
    </div>
  );
}
